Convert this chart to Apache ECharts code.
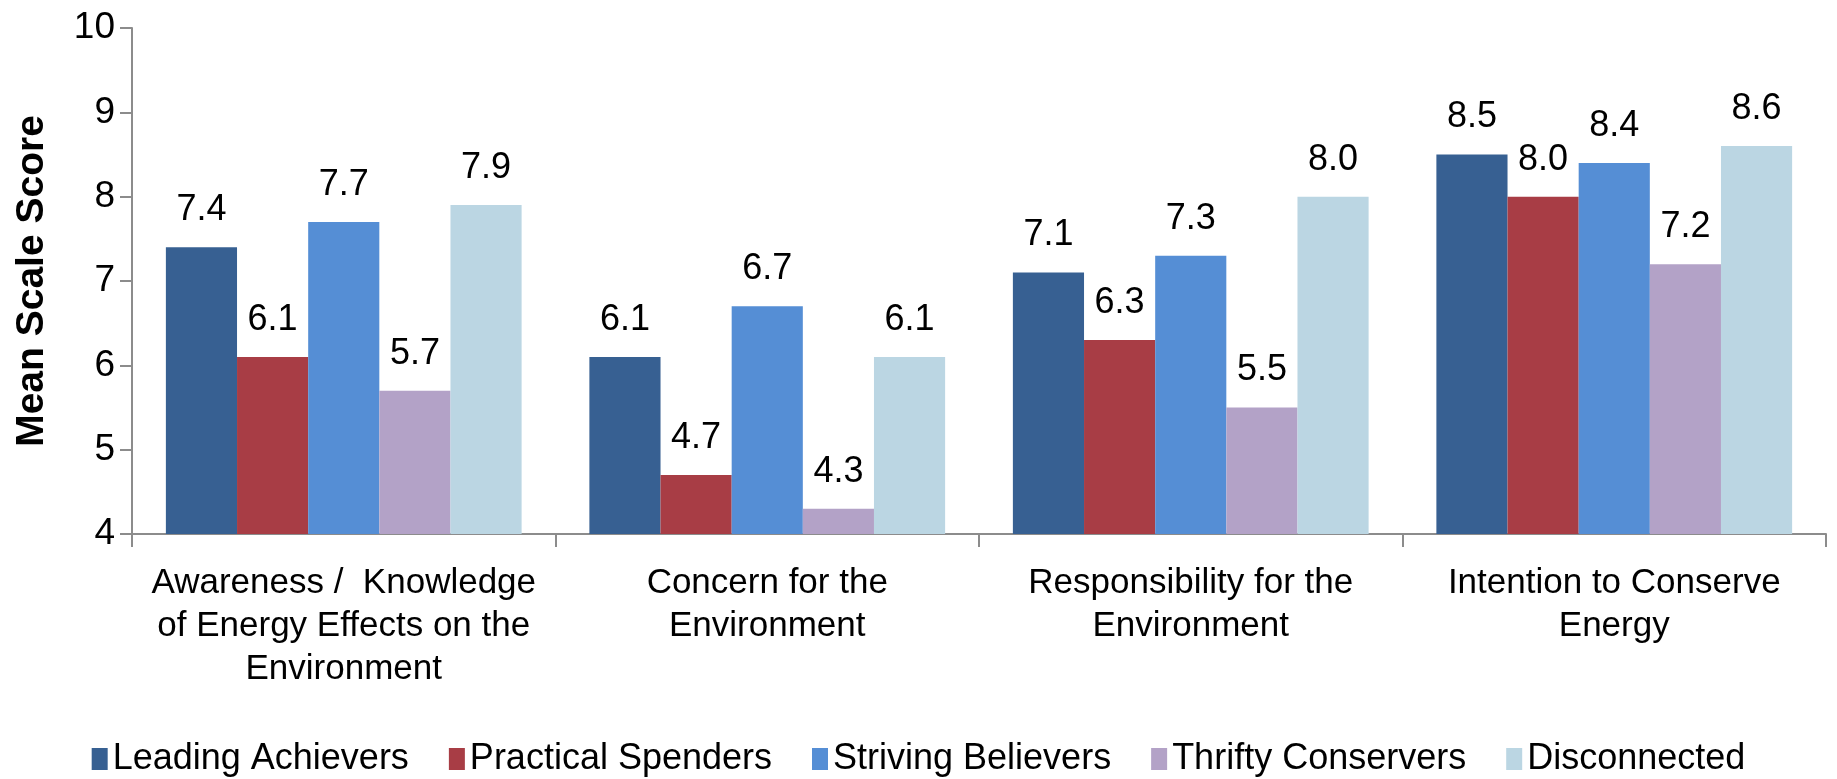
<!DOCTYPE html>
<html>
<head>
<meta charset="utf-8">
<script src="https://cdn.jsdelivr.net/npm/echarts@6/dist/echarts.min.js"></script>
<style>
  html, body { margin: 0; padding: 0; background: #ffffff; }
  #chart { width: 1837px; height: 779px; }
</style>
</head>
<body>
<div id="chart"></div>
<script>
// Attitude scales by segment
const categories = [
  'Awareness /  Knowledge\nof Energy Effects on the\nEnvironment',
  'Concern for the\nEnvironment',
  'Responsibility for the\nEnvironment',
  'Intention to Conserve\nEnergy'
];
const segmentNames = ['Leading Achievers', 'Practical Spenders', 'Striving Believers', 'Thrifty Conservers', 'Disconnected'];
const leadingAchievers  = [7.4, 6.1, 7.1, 8.5];
const practicalSpenders = [6.1, 4.7, 6.3, 8.0];
const strivingBelievers = [7.7, 6.7, 7.3, 8.4];
const thriftyConservers = [5.7, 4.3, 5.5, 7.2];
const disconnected      = [7.9, 6.1, 8.0, 8.6];
const yTicks = [4, 5, 6, 7, 8, 9, 10];

const segmentValues = [leadingAchievers, practicalSpenders, strivingBelievers, thriftyConservers, disconnected];
const segmentColors = ['#376092', '#A83D45', '#558ED5', '#B3A2C7', '#BBD6E3'];
const FONT = '"Liberation Sans", Arial, sans-serif';

const chart = echarts.init(document.getElementById('chart'), null, { renderer: 'canvas' });

chart.setOption({
  animation: false,
  backgroundColor: '#ffffff',
  textStyle: { fontFamily: FONT },
  grid: { left: 132, right: 11, top: 28, bottom: 245, containLabel: false },
  legend: {
    data: segmentNames,
    left: 'center',
    top: 736,
    itemWidth: 16,
    itemHeight: 22,
    itemGap: 40,
    icon: 'rect',
    textStyle: { fontFamily: FONT, fontSize: 36, color: '#000000' }
  },
  xAxis: {
    type: 'category',
    data: categories,
    axisLine: { lineStyle: { color: '#8c8c8c', width: 2 } },
    axisTick: { show: true, length: 13, lineStyle: { color: '#8c8c8c', width: 2 } },
    axisLabel: {
      interval: 0,
      margin: 28,
      fontFamily: FONT,
      fontSize: 35,
      lineHeight: 43,
      color: '#000000',
      align: 'center'
    }
  },
  yAxis: {
    type: 'value',
    min: yTicks[0],
    max: yTicks[yTicks.length - 1],
    interval: 1,
    name: 'Mean Scale Score',
    nameLocation: 'middle',
    nameRotate: 90,
    nameGap: 80,
    nameTextStyle: { fontFamily: FONT, fontSize: 39, fontWeight: 'bold', color: '#000000' },
    axisLine: { show: true, lineStyle: { color: '#8c8c8c', width: 2 } },
    axisTick: { show: true, length: 12, lineStyle: { color: '#8c8c8c', width: 2 } },
    splitLine: { show: false },
    axisLabel: { margin: 17, fontFamily: FONT, fontSize: 37, color: '#000000' }
  },
  series: segmentNames.map((name, i) => ({
    name: name,
    type: 'bar',
    data: segmentValues[i],
    barGap: '0%',
    barCategoryGap: '16%',
    itemStyle: { color: segmentColors[i] },
    label: {
      show: true,
      position: 'top',
      distance: 19,
      fontFamily: FONT,
      fontSize: 36,
      color: '#000000',
      formatter: p => p.value.toFixed(1)
    }
  }))
});
</script>
</body>
</html>
